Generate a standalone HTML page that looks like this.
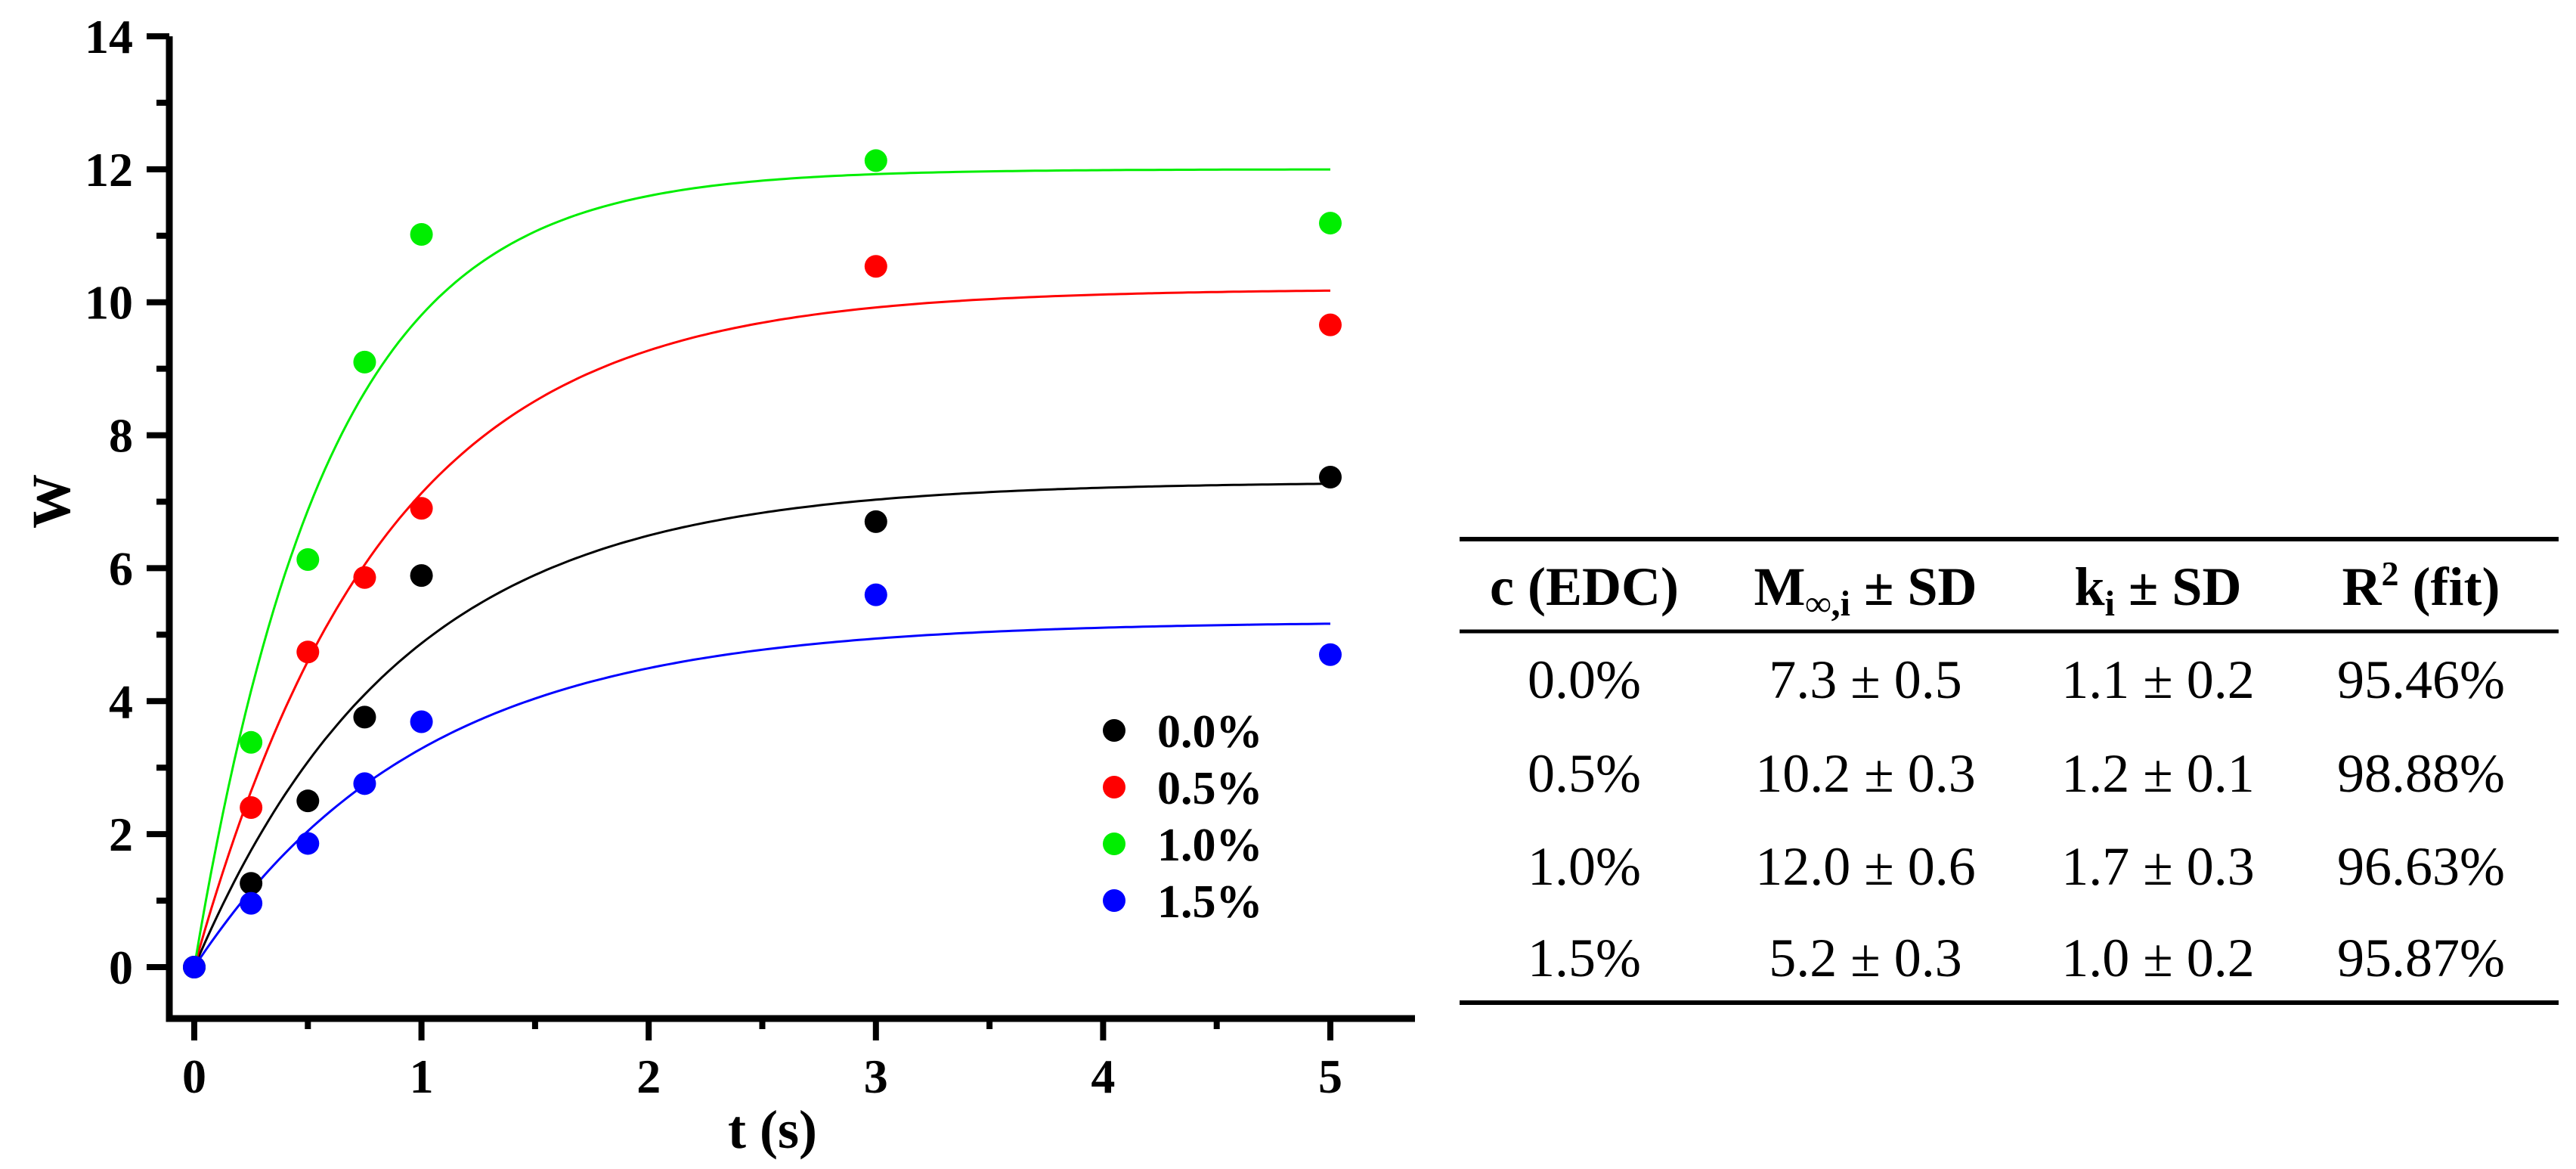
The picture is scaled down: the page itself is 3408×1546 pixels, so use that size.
<!DOCTYPE html>
<html><head><meta charset="utf-8"><style>
html,body{margin:0;padding:0;background:#fff;}
svg{display:block;}
</style></head><body>
<svg id="chart" width="3408" height="1546" viewBox="0 0 3408 1546" xmlns="http://www.w3.org/2000/svg" font-family="'Liberation Serif', serif">
<g id="plot"></g>
<g id="table">
  <line x1="1931" y1="713" x2="3385" y2="713" stroke="#000" stroke-width="6"/>
  <line x1="1931" y1="835" x2="3385" y2="835" stroke="#000" stroke-width="5"/>
  <line x1="1931" y1="1326" x2="3385" y2="1326" stroke="#000" stroke-width="6"/>
  <g font-weight="bold" font-size="72" text-anchor="middle">
    <text x="2096" y="800">c (EDC)</text>
    <text x="2468" y="800">M<tspan font-size="48" dy="14">∞,i</tspan><tspan dy="-14"> ± SD</tspan></text>
    <text x="2855" y="800">k<tspan font-size="48" dy="14">i</tspan><tspan dy="-14"> ± SD</tspan></text>
    <text x="3203" y="800">R<tspan font-size="46" dy="-26">2</tspan><tspan dy="26"> (fit)</tspan></text>
  </g>
  <g id="tbody" font-size="72" text-anchor="middle"></g>
</g>
<script>
const times=[0,0.25,0.5,0.75,1,3,5];
const seriesNames=["0.0%","0.5%","1.0%","1.5%"];
const seriesColors=["#000000","#ff0000","#00ee00","#0000ff"];
const black=[0,1.26,2.5,3.76,5.89,6.7,7.37];
const red=[0,2.4,4.74,5.86,6.9,10.54,9.66];
const green=[0,3.38,6.13,9.1,11.02,12.13,11.19];
const blue=[0,0.96,1.86,2.76,3.69,5.6,4.7];
const fitM=[7.3,10.2,12.0,5.2];
const fitK=[1.1,1.2,1.7,1.0];
const xTicks=[0,1,2,3,4,5];
const yTicks=[0,2,4,6,8,10,12,14];
const tableRows=[["0.0%","7.3 ± 0.5","1.1 ± 0.2","95.46%"],["0.5%","10.2 ± 0.3","1.2 ± 0.1","98.88%"],["1.0%","12.0 ± 0.6","1.7 ± 0.3","96.63%"],["1.5%","5.2 ± 0.3","1.0 ± 0.2","95.87%"]];

const NS="http://www.w3.org/2000/svg";
const X0=257,XU=300.6,Y0=1279,YU=(1279-48)/14;
const AX=224, AY=1347;
const xs=v=>X0+v*XU, ys=v=>Y0-v*YU;
const plot=document.getElementById('plot');
function mk(tag,attrs,parent){const e=document.createElementNS(NS,tag);for(const k in attrs)e.setAttribute(k,attrs[k]);(parent||plot).appendChild(e);return e;}

let ax=mk('path',{d:`M${AX},48 L${AX},${AY} L1872,${AY}`,fill:'none',stroke:'#000','stroke-width':9});


for(let v=0;v<=14;v+=1){
  const major=v%2===0;
  const t=mk('line',{x1:major?194:207,x2:AX,y1:ys(v),y2:ys(v),stroke:'#000','stroke-width':8});
  
  
}
yTicks.forEach(v=>{
  const t=mk('text',{x:176,y:ys(v)+22,'text-anchor':'end','font-size':64,'font-weight':'bold'});
  t.textContent=v;
  
  
});
for(let v=0;v<=5.001;v+=0.5){
  const major=Math.abs(v-Math.round(v))<1e-9;
  const t=mk('line',{x1:xs(v),x2:xs(v),y1:AY,y2:major?1376:1361,stroke:'#000','stroke-width':8});
  
  
}
xTicks.forEach(v=>{
  const t=mk('text',{x:xs(v),y:1445,'text-anchor':'middle','font-size':64,'font-weight':'bold'});
  t.textContent=v;
  
  
});
let xt=mk('text',{x:1022,y:1518,'text-anchor':'middle','font-size':72,'font-weight':'bold'});
xt.textContent='t (s)';


let yt=mk('text',{x:0,y:0,'text-anchor':'middle','font-size':72,'font-weight':'bold',transform:'translate(92,663) rotate(-90)'});
yt.textContent='W';



fitM.forEach((M,i)=>{
  let d='';
  for(let j=0;j<=200;j++){const t=5*j/200;d+=(j?'L':'M')+xs(t).toFixed(1)+','+ys(M*(1-Math.exp(-fitK[i]*t))).toFixed(1);}
  const p=mk('path',{d,fill:'none',stroke:seriesColors[i],'stroke-width':3});
  
  
});
[black,red,green,blue].forEach((arr,i)=>{
  arr.forEach((v,j)=>{
    const c=mk('circle',{cx:xs(times[j]),cy:ys(v),r:15,fill:seriesColors[i]});
    
    
  });
});
seriesNames.forEach((n,i)=>{
  const y=966+i*75;
  const c=mk('circle',{cx:1474,cy:y,r:15,fill:seriesColors[i]});
  
  
  const t=mk('text',{x:1531,y:y+22,'font-size':62,'font-weight':'bold'});
  t.textContent=n;
  
  
});
const tb=document.getElementById('tbody');
const colX=[2096,2468,2855,3203];
const rowY=[923,1047,1170,1291];
tableRows.forEach((r,ri)=>{
  r.forEach((cell,ci)=>{
    const t=mk('text',{x:colX[ci],y:rowY[ri]},tb);
    t.textContent=cell;
    
    
  });
});
</script>
</svg>
</body></html>
